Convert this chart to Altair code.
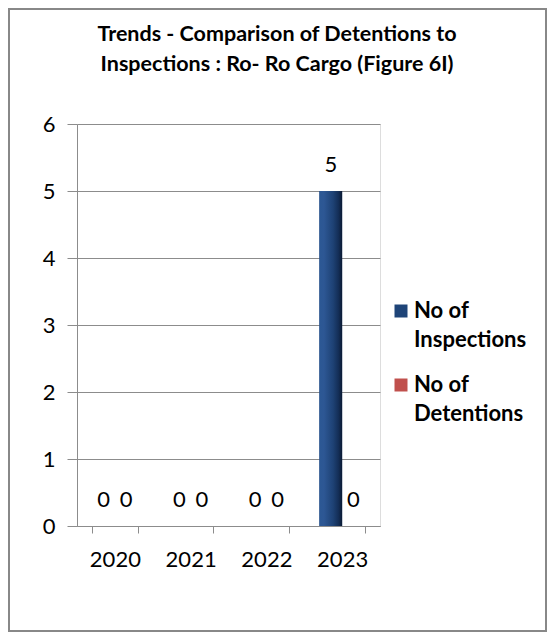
import altair as alt
import pandas as pd

years = ["2020", "2021", "2022", "2023"]
inspections = [0, 0, 0, 5]
detentions = [0, 0, 0, 0]
series = ["No of Inspections", "No of Detentions"]
colors = ["#1F4478", "#C0504D"]
title_lines = ["Trends - Comparison of Detentions to", "Inspections : Ro- Ro Cargo (Figure 6I)"]

rows = []
for i, y in enumerate(years):
    rows.append({"year": y, "series": series[0], "value": inspections[i]})
    rows.append({"year": y, "series": series[1], "value": detentions[i]})
df = pd.DataFrame(rows)

W, H = 303, 402
PL, PT, PR, PB = 69, 116, 167, 106
FONT = "Lato"
GRID = "#8c8c8c"

x_enc = alt.X(
    "year:N",
    sort=years,
    scale=alt.Scale(paddingInner=0.4, paddingOuter=0.2),
    axis=alt.Axis(
        title=None, labelAngle=0, tickBand="extent", tickSize=7, labelPadding=16,
        labelFont=FONT, labelFontSize=22, labelColor="black",
        domainColor=GRID, tickColor=GRID, grid=False,
    ),
)
xo_enc = alt.XOffset("series:N", sort=series)
y_enc = alt.Y(
    "value:Q",
    scale=alt.Scale(domain=[0, 6]),
    axis=alt.Axis(
        title=None, values=[0, 1, 2, 3, 4, 5, 6], tickSize=10, labelPadding=12,
        labelFont=FONT, labelFontSize=22, labelColor="black",
        domainColor=GRID, tickColor=GRID, gridColor=GRID, grid=True,
    ),
)

base = alt.Chart(df).encode(x=x_enc, xOffset=xo_enc, y=y_enc)

bars = base.mark_bar().encode(
    color=alt.Color(
        "series:N",
        sort=series,
        scale=alt.Scale(domain=series, range=colors),
        legend=alt.Legend(
            title=None, orient="none", legendX=313, legendY=176,
            symbolType="square", symbolSize=169, symbolStrokeWidth=0,
            labelFont=FONT, labelFontSize=22, labelFontWeight="bold", labelColor="black",
            labelExpr="[slice(datum.label, 0, 5), slice(datum.label, 6)]",
            labelOffset=2, rowPadding=23, padding=0,
        ),
    )
)

grad = base.mark_bar(
    fill=alt.Gradient(
        gradient="linear",
        stops=[
            alt.GradientStop(color="#2C5894", offset=0),
            alt.GradientStop(color="#2D5794", offset=0.2),
            alt.GradientStop(color="#1E4275", offset=0.6),
            alt.GradientStop(color="#132D55", offset=0.85),
            alt.GradientStop(color="#0B1A33", offset=1),
        ],
        x1=0, x2=1, y1=0, y2=0,
    )
).transform_filter(alt.datum.series == series[0])

labels = base.mark_text(dy=-26, baseline="middle", font=FONT, fontSize=22, color="black").encode(
    text="value:Q"
)

one = pd.DataFrame({"f": [0]})

frame = alt.Chart(one).mark_rect(
    fill=None, stroke="#888888", strokeWidth=2
).encode(
    x=alt.value(-PL + 1), x2=alt.value(W + PR - 1),
    y=alt.value(-PT + 1), y2=alt.value(H + PB - 1),
)

title = alt.Chart(one).mark_text(
    font=FONT, fontSize=21.5, fontWeight="bold", color="black",
    align="center", baseline="middle", lineHeight=30,
).encode(
    x=alt.value(200), y=alt.value(-89), text=alt.value(title_lines)
)

chart = alt.layer(frame, title, bars, grad, labels).properties(
    width=W, height=H,
    autosize=alt.AutoSizeParams(type="none"),
    padding={"left": PL, "top": PT, "right": PR, "bottom": PB},
).configure_view(stroke=None).configure(
    background="white",
    style={"guide-label": {"lineHeight": 29}},
)

chart.save("out.html", embed_options={"renderer": "svg", "actions": False})
